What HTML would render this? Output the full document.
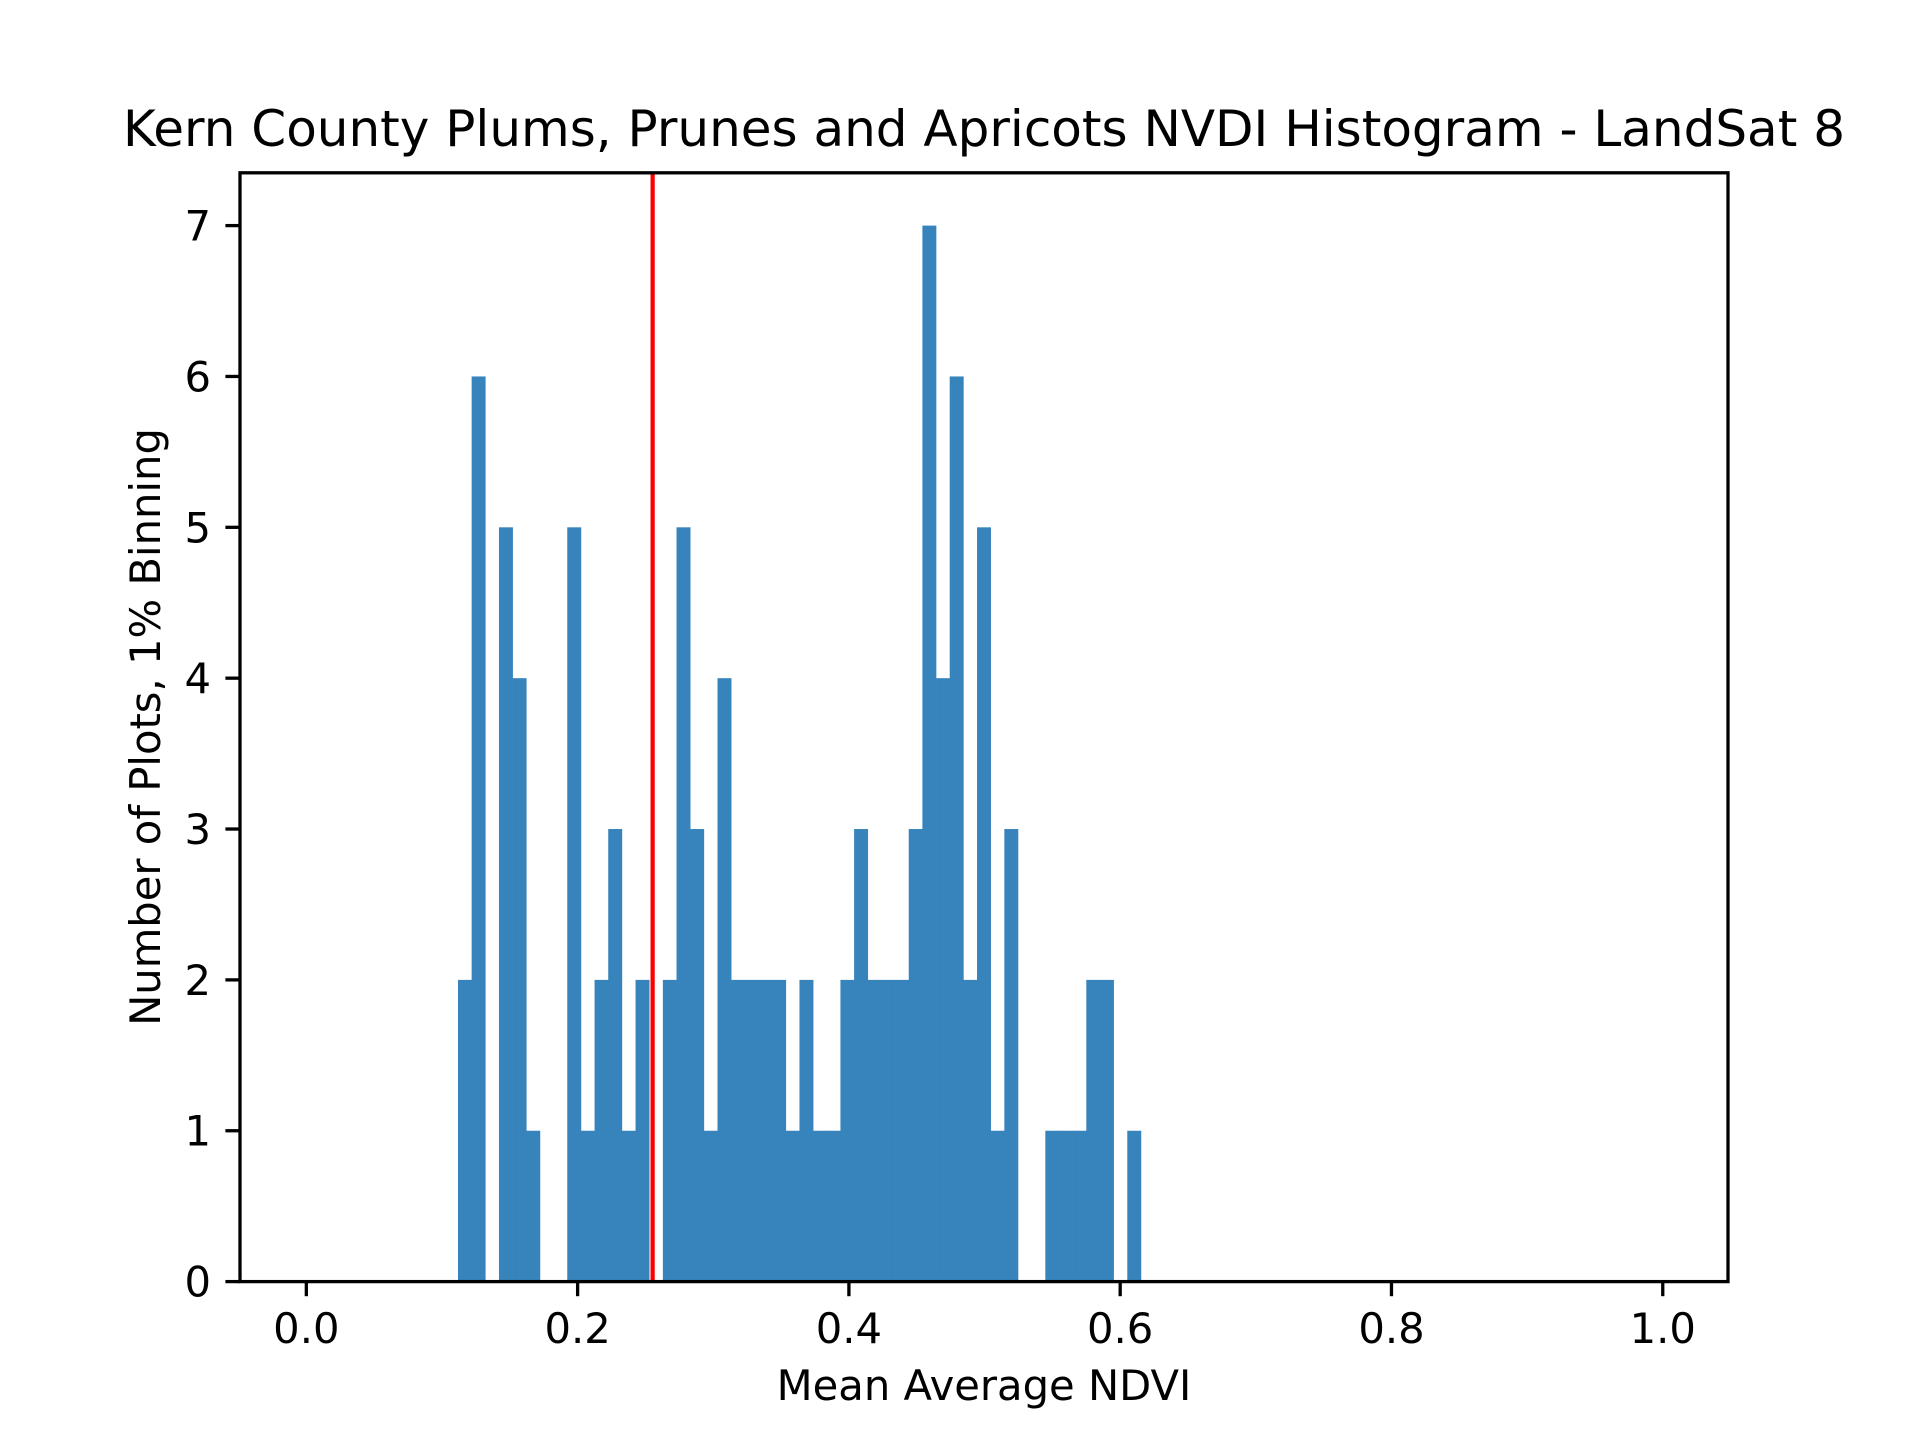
<!DOCTYPE html>
<html><head><meta charset="utf-8"><style>
html,body{margin:0;padding:0;background:#fff}
svg{display:block}
text{font-family:"DejaVu Sans","Liberation Sans",sans-serif;fill:#000}
</style></head><body>
<svg id="chart" width="1920" height="1440" viewBox="0 0 1920 1440" xmlns="http://www.w3.org/2000/svg">
<rect x="0" y="0" width="1920" height="1440" fill="#fff"/>
<text x="984" y="146" font-size="50" text-anchor="middle">Kern County Plums, Prunes and Apricots NVDI Histogram - LandSat 8</text>
<text x="984" y="1400" font-size="41.7" text-anchor="middle">Mean Average NDVI</text>
<text x="0" y="0" font-size="41.7" text-anchor="middle" transform="translate(160,727) rotate(-90)">Number of Plots, 1% Binning</text>
<g id="bars"></g>
<g id="marker"></g>
<g id="axes"></g>
</svg>
<script>
const counts = [2,6,0,5,4,1,0,0,5,1,2,3,1,2,0,2,5,3,1,4,2,2,2,2,1,2,1,1,2,3,2,2,2,3,7,4,6,2,5,1,3,0,0,1,1,1,2,2,0,1];
const binStart = [0.1118];
const binEnd = [0.6153];
const meanValue = [0.2553];
const xTicks = [0.0,0.2,0.4,0.6,0.8,1.0];
const xTickLabels = ["0.0","0.2","0.4","0.6","0.8","1.0"];
const yTicks = [0,1,2,3,4,5,6,7];
const yTickLabels = ["0","1","2","3","4","5","6","7"];

const L=240,R=1728,T=172.8,B=1281.6;
const xmin=-0.0489,xmax=1.0481,ymax=7.35;
const xs=v=>L+(v-xmin)/(xmax-xmin)*(R-L);
const ys=v=>B-v/ymax*(B-T);
const NS="http://www.w3.org/2000/svg";
function mk(tag,attrs,parent){const e=document.createElementNS(NS,tag);for(const k in attrs)e.setAttribute(k,attrs[k]);parent.appendChild(e);return e;}

const bars=document.getElementById('bars');
const n=counts.length, w=(binEnd[0]-binStart[0])/n;
counts.forEach((c,i)=>{
  if(c<=0)return;
  const x0=xs(binStart[0]+i*w),x1=xs(binStart[0]+(i+1)*w);
  const r=mk('rect',{x:x0,y:ys(c),width:x1-x0+0.3,height:B-ys(c),fill:'#3783bb'},bars);
  
  
});

const mg=document.getElementById('marker');
const ml=mk('line',{x1:xs(meanValue[0]),x2:xs(meanValue[0]),y1:T,y2:B,stroke:'#ff0000','stroke-width':4.2},mg);



const ax=document.getElementById('axes');
const fr=mk('rect',{x:L,y:T,width:R-L,height:B-T,fill:'none',stroke:'#000','stroke-width':3.3},ax);


xTicks.forEach((v,i)=>{
  const x=xs(v);
  const t=mk('line',{x1:x,x2:x,y1:B,y2:B+14.6,stroke:'#000','stroke-width':3.3},ax);
  
  
  const lb=mk('text',{x:x,y:1343,'font-size':41.7,'text-anchor':'middle'},ax);
  lb.textContent=xTickLabels[i];
  
  
});
yTicks.forEach((v,i)=>{
  const y=ys(v);
  const t=mk('line',{x1:L-14.6,x2:L,y1:y,y2:y,stroke:'#000','stroke-width':3.3},ax);
  
  
  const lb=mk('text',{x:211,y:y+15,'font-size':41.7,'text-anchor':'end'},ax);
  lb.textContent=yTickLabels[i];
  
  
});
</script>
</body></html>
